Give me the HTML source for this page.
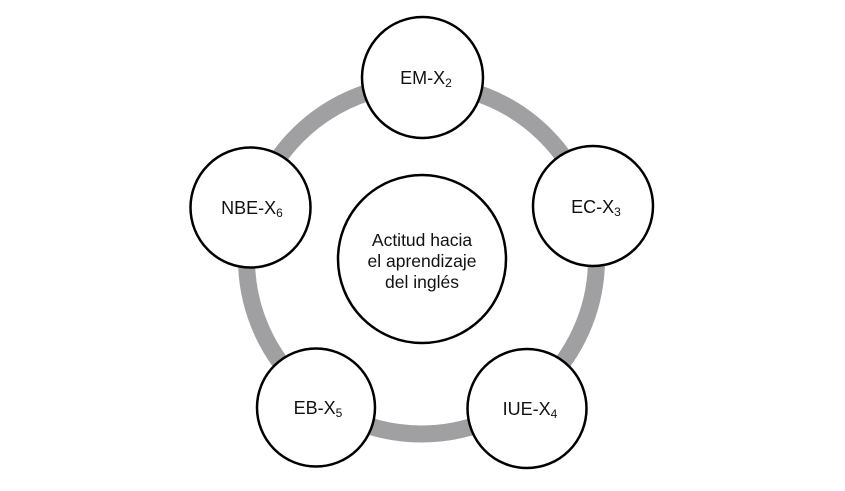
<!DOCTYPE html>
<html><head><meta charset="utf-8"><style>
html,body{margin:0;padding:0;background:#fff;}
svg{display:block}
text{font-family:"Liberation Sans",sans-serif;fill:#111;}
</style></head><body>
<svg width="845" height="491" viewBox="0 0 845 491" xmlns="http://www.w3.org/2000/svg">
<circle cx="421.5" cy="259" r="175" fill="none" stroke="#a0a0a2" stroke-width="17"/>
<g fill="#fff" stroke="#000" stroke-width="2.5">
<circle cx="422.5" cy="77.5" r="60.5"/>
<circle cx="593" cy="206" r="60"/>
<circle cx="527" cy="408.5" r="59.5"/>
<circle cx="316" cy="407.5" r="59"/>
<circle cx="250.5" cy="207.5" r="60"/>
<circle cx="422" cy="259" r="84"/>
</g>
<g font-size="18" text-anchor="middle">
<text x="426" y="84">EM-X<tspan font-size="12" dy="3">2</tspan></text>
<text x="596" y="213">EC-X<tspan font-size="12" dy="3">3</tspan></text>
<text x="530" y="415">IUE-X<tspan font-size="12" dy="3">4</tspan></text>
<text x="318" y="414">EB-X<tspan font-size="12" dy="3">5</tspan></text>
<text x="252" y="214">NBE-X<tspan font-size="12" dy="3">6</tspan></text>
</g>
<g font-size="17.5" text-anchor="middle">
<text x="422" y="246">Actitud hacia</text>
<text x="422" y="267">el aprendizaje</text>
<text x="422" y="288">del inglés</text>
</g>
</svg>
</body></html>
